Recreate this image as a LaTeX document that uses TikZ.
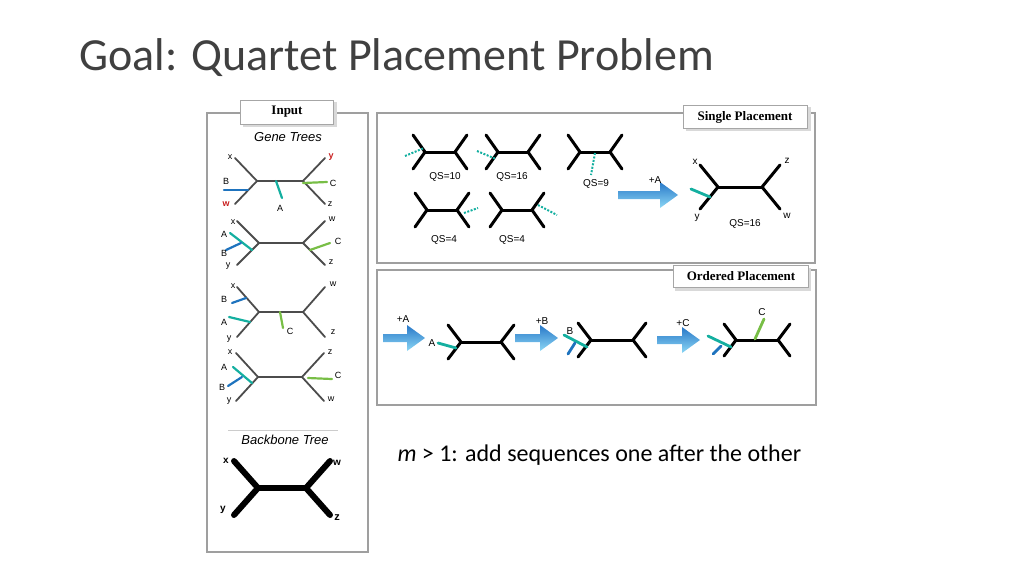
\documentclass[tikz,border=0pt]{standalone}
\usepackage{fontspec}
\setmainfont{Carlito}
\newfontfamily\lsans{Liberation Sans}
\newfontfamily\lserif{Liberation Serif}
\definecolor{tealc}{RGB}{20,175,160}
\definecolor{bluec}{RGB}{30,115,190}
\definecolor{greenc}{RGB}{120,190,70}
\definecolor{redc}{RGB}{200,30,30}
\definecolor{arrL}{RGB}{40,120,200}
\definecolor{arrR}{RGB}{140,215,245}
\newcommand\qt[6]{%
 \draw[#6] ({#1-#3-#4},{#2-#5}) -- ({#1-#3},#2) -- ({#1-#3-#4},{#2+#5});
 \draw[#6] ({#1-#3},#2) -- ({#1+#3},#2);
 \draw[#6] ({#1+#3+#4},{#2-#5}) -- ({#1+#3},#2) -- ({#1+#3+#4},{#2+#5});}
\newcommand\barrow[3]{% x0 x1 y
 \shade[left color=arrL,right color=arrR,shading angle=0] (#1,{#3-4}) -- ({#2-18},{#3-4}) -- ({#2-18},{#3-13}) -- (#2,#3) -- ({#2-18},{#3+13}) -- ({#2-18},{#3+4}) -- (#1,{#3+4}) -- cycle;}
\tikzset{
 frame/.style={draw=gray!75,line width=1.8},
 tag/.style={draw=gray!70,fill=white,line width=1,inner sep=3pt,font=\lserif\bfseries\fontsize{13}{13}\selectfont},
 gt/.style={draw=gray!60!black,line width=1.8,line cap=round,line join=round},
 bt/.style={draw=black,line width=3,line cap=round,line join=round},
 bb/.style={draw=black,line width=6,line cap=round,line join=round},
 lb/.style={font=\lsans\fontsize{9}{9}\selectfont,inner sep=0pt},
 ql/.style={font=\lsans\fontsize{10}{10}\selectfont,inner sep=0pt},
 br/.style={line width=2.2,line cap=round},
}
\begin{document}
\begin{tikzpicture}[x=1pt,y=-1pt]
\useasboundingbox (0,0) rectangle (1024,576);
\node[anchor=west,text=black!75,font=\fontsize{46}{46}\selectfont] (title) at (76,58) {Goal: Quartet Placement Problem};
% frames
\draw[frame] (207,113) rectangle (368,552);
\draw[frame] (377,113) rectangle (815,263);
\draw[frame] (377,270) rectangle (816,405);
\fill[gray!30] (243,102) rectangle (337,127);
\node[tag,minimum width=93,minimum height=24] (inp) at (287,112) {Input};
\fill[gray!30] (686,107) rectangle (811,131);
\node[tag,minimum width=124,minimum height=23] (sp) at (745,117) {Single Placement};
\fill[gray!30] (675,268) rectangle (811,291);
\node[tag,minimum width=135,minimum height=22] (op) at (741,276) {Ordered Placement};
\node[font=\lsans\itshape\fontsize{13}{13}\selectfont] (gt) at (288,137) {Gene Trees};
\draw[gray!40,line width=0.8] (228,430) -- (338,430);
\node[font=\lsans\itshape\fontsize{13}{13}\selectfont] (bt) at (285,440) {Backbone Tree};
% gene tree 1
\qt{280}{181}{23}{22}{23}{gt}
\draw[br,bluec] (248,190) -- (224,190);
\draw[br,tealc] (276,181) -- (282,198);
\draw[br,greenc] (303,183) -- (327,182);
\node[lb] at (230,157) {x}; \node[lb,text=redc] at (331,157) {\bfseries y};
\node[lb] at (226,181) {B}; \node[lb,text=redc] at (226,204) {\bfseries w};
\node[lb] at (280,208) {A}; \node[lb] at (333,183) {C}; \node[lb] at (330,204) {z};
% gene tree 2
\qt{281}{243}{22}{22}{22}{gt}
\draw[br,tealc] (252,250) -- (230,233);
\draw[br,bluec] (241,243) -- (226,250);
\draw[br,greenc] (310,250) -- (330,243);
\node[lb] at (233,222) {x}; \node[lb] at (332,219) {w};
\node[lb] at (224,234) {A}; \node[lb] at (338,241) {C};
\node[lb] at (224,253) {B}; \node[lb] at (228,266) {y}; \node[lb] at (331,262) {z};
% gene tree 3
\qt{281}{312}{22}{22}{25}{gt}
\draw[br,bluec] (246,298) -- (232,303);
\draw[br,tealc] (250,322) -- (229,317);
\draw[br,greenc] (280,312) -- (283,328);
\node[lb] at (233,286) {x}; \node[lb] at (333,284) {w};
\node[lb] at (224,299) {B}; \node[lb] at (224,322) {A};
\node[lb] at (290,331) {C}; \node[lb] at (229,339) {y}; \node[lb] at (333,332) {z};
% gene tree 4
\qt{280}{377}{22}{22}{24}{gt}
\draw[br,tealc] (252,383) -- (233,367);
\draw[br,bluec] (242,377) -- (228,386);
\draw[br,greenc] (308,378) -- (332,379);
\node[lb] at (230,352) {x}; \node[lb] at (330,352) {z};
\node[lb] at (224,367) {A}; \node[lb] at (338,375) {C};
\node[lb] at (222,387) {B}; \node[lb] at (229,401) {y}; \node[lb] at (331,399) {w};
% backbone
\qt{282}{488}{24}{24}{27}{bb}
\node[font=\lsans\bfseries\fontsize{10}{10}\selectfont] at (226,461) {x};
\node[font=\lsans\bfseries\fontsize{10}{10}\selectfont] at (223,510) {y};
\node[font=\lsans\bfseries\fontsize{10}{10}\selectfont] at (337,463) {w};
\node[font=\lsans\bfseries\fontsize{11}{11}\selectfont] at (337,518) {z};
% single placement
\qt{440}{152}{15}{12}{17}{bt}
\draw[tealc,line width=2,dash pattern=on 2pt off 1.5pt] (405,156) -- (424,148);
\node[ql] at (445,177) {QS=10};
\qt{513}{152}{15}{12}{17}{bt}
\draw[tealc,line width=2,dash pattern=on 2pt off 1.5pt] (477,151) -- (496,159);
\node[ql] at (512,177) {QS=16};
\qt{595}{152}{15}{12}{17}{bt}
\draw[tealc,line width=2,dash pattern=on 2pt off 1.5pt] (595,153) -- (591,175);
\node[ql] at (596,184) {QS=9};
\qt{442}{210}{15}{12}{17}{bt}
\draw[tealc,line width=2,dash pattern=on 2pt off 1.5pt] (464,213) -- (478,208);
\node[ql] at (444,240) {QS=4};
\qt{517}{210}{15}{12}{17}{bt}
\draw[tealc,line width=2,dash pattern=on 2pt off 1.5pt] (538,205) -- (557,215);
\node[ql] at (512,240) {QS=4};
\barrow{618}{678}{195}
\node[ql] at (655,180) {+A};
\qt{740}{187}{22}{18}{22}{bt}
\draw[br,tealc,line width=2.8] (710,197) -- (691,189);
\node[ql] at (695,162) {x}; \node[ql] at (787,161) {z};
\node[ql] at (697,218) {y}; \node[ql] at (787,216) {w};
\node[ql] at (745,224) {QS=16};
% ordered placement
\barrow{383}{425}{338}
\node[ql] at (403,319) {+A};
\qt{481}{342}{20}{13}{17}{bt}
\draw[br,tealc,line width=2.8] (456,348) -- (438,343);
\node[ql] at (432,343) {A};
\barrow{515}{558}{338}
\node[ql] at (542,321) {+B};
\qt{612}{340}{21}{13}{17}{bt}
\draw[br,tealc,line width=2.8] (587,347) -- (564,335);
\draw[br,bluec,line width=2.8] (575,343) -- (568,354);
\node[ql] at (570,331) {B};
\barrow{657}{700}{340}
\node[ql] at (683,323) {+C};
\qt{757}{340}{21}{12}{16}{bt}
\draw[br,tealc,line width=2.8] (731,347) -- (708,336);
\draw[br,bluec,line width=2.8] (721,346) -- (713,354);
\draw[br,greenc,line width=2.8] (755,339) -- (764,319);
\node[ql] at (762,312) {C};
% caption
\node[anchor=west,font=\fontsize{24}{24}\selectfont] (cap) at (394,455) {\textit{m} > 1: add sequences one after the other};
\end{tikzpicture}
\end{document}
